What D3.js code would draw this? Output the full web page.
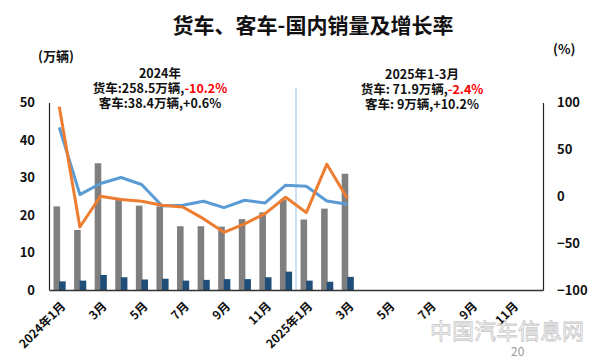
<!DOCTYPE html>
<html>
<head>
<meta charset="utf-8">
<script src="https://cdn.jsdelivr.net/npm/d3@7"></script>
<style>
  html, body { margin: 0; padding: 0; background: #fff; }
  svg { display: block; font-family: "Noto Sans CJK SC", "Noto Sans", sans-serif; }
</style>
</head>
<body>
<svg id="chart" width="600" height="362"></svg>
<script>
// ---- data ----
const months = ["2024-01","2024-02","2024-03","2024-04","2024-05","2024-06","2024-07","2024-08","2024-09","2024-10","2024-11","2024-12",
                "2025-01","2025-02","2025-03","2025-04","2025-05","2025-06","2025-07","2025-08","2025-09","2025-10","2025-11","2025-12"];
const tickMonths = ["2024-01","2024-03","2024-05","2024-07","2024-09","2024-11","2025-01","2025-03","2025-05","2025-07","2025-09","2025-11"];
const tickLabels = ["2024年1月","3月","5月","7月","9月","11月","2025年1月","3月","5月","7月","9月","11月"];
const truckSales = [22.3,16.0,33.8,24.5,22.5,22.3,17.0,17.0,16.9,18.9,20.7,24.1,18.8,21.7,31.0];   // 万辆
const busSales   = [2.3,2.5,4.0,3.4,2.8,3.0,2.5,2.7,2.9,2.9,3.4,4.9,2.5,2.2,3.5];                 // 万辆
const orangeRate = [95.5,-32.8,0,-3.5,-5.3,-9.6,-11.4,-23.9,-38.5,-29.5,-18.5,-1.0,-17.5,34.2,-2.5]; // %
const blueRate   = [73.5,1.8,13.6,20.0,12.5,-10.4,-9.6,-5.3,-12.1,-4.3,-7.1,11.8,10.7,-5.0,-8.6];   // %
const leftTicks = [0,10,20,30,40,50];
const rightTicks = [-100,-50,0,50,100];
const title = "货车、客车-国内销量及增长率";
const note2024 = [["2024年", ""], ["货车:258.5万辆,", "-10.2%"], ["客车:38.4万辆,+0.6%", ""]];
const note2025 = [["2025年1-3月", ""], ["货车: 71.9万辆,", "-2.4%"], ["客车: 9万辆,+10.2%", ""]];

// ---- layout ----
const svg = d3.select("#chart");
const L = 49, R = 543, T = 102.5, B = 290;

const x = d3.scaleBand().domain(months).range([L, R]).padding(0);
const yL = d3.scaleLinear().domain([0, 50]).range([B, T]);
const yR = d3.scaleLinear().domain([-100, 100]).range([B, T]);
const bw = x.bandwidth();
const cx = i => x(months[i]) + bw / 2;

// title
svg.append("text").attr("x", 313).attr("y", 33).attr("text-anchor", "middle")
  .attr("font-size", 21).attr("font-weight", 700).attr("fill", "#111").text(title);

// unit labels
svg.append("text").attr("x", 38).attr("y", 61).attr("font-size", 13).attr("font-weight", 700)
  .attr("fill", "#111").text("(万辆)");
svg.append("text").attr("x", 553).attr("y", 54).attr("font-size", 13).attr("font-weight", 700)
  .attr("fill", "#111").text("(%)");

// annotations: each line centred; red part drawn as its own text right after the black part
function note(lines, xc, y0) {
  const g = svg.append("g").attr("font-size", 12.5).attr("font-weight", 700);
  lines.forEach((ln, k) => {
    const y = y0 + 15 * k;
    const a = g.append("text").attr("y", y).attr("fill", "#111").text(ln[0]);
    const wa = a.node().getComputedTextLength();
    let wb = 0, b = null;
    if (ln[1]) {
      b = g.append("text").attr("y", y).attr("fill", "#ff0000").text(ln[1]);
      wb = b.node().getComputedTextLength();
    }
    const x0 = xc - (wa + wb) / 2;
    a.attr("x", x0);
    if (b) b.attr("x", x0 + wa);
  });
}
note(note2024, 160, 78);
note(note2025, 422, 79);

// separator line between 2024 and 2025
svg.append("line").attr("x1", x("2025-01")).attr("x2", x("2025-01"))
  .attr("y1", 88).attr("y2", B).attr("stroke", "#9dc3e6").attr("stroke-width", 1);

// bars
svg.append("g").selectAll("rect").data(truckSales).join("rect")
  .attr("x", (d, i) => x(months[i]) + bw * 0.22)
  .attr("width", bw * 0.32)
  .attr("y", d => yL(d)).attr("height", d => B - yL(d))
  .attr("fill", "#7f7f7f");
svg.append("g").selectAll("rect").data(busSales).join("rect")
  .attr("x", (d, i) => x(months[i]) + bw * 0.49)
  .attr("width", bw * 0.32)
  .attr("y", d => yL(d)).attr("height", d => B - yL(d))
  .attr("fill", "#1f4e79");

// lines
const line = d3.line().x((d, i) => cx(i)).y(d => yR(d));
svg.append("path").datum(blueRate).attr("d", line).attr("fill", "none")
  .attr("stroke", "#5b9bd5").attr("stroke-width", 3).attr("stroke-linejoin", "round");
svg.append("path").datum(orangeRate).attr("d", line).attr("fill", "none")
  .attr("stroke", "#ed7d31").attr("stroke-width", 3).attr("stroke-linejoin", "round");

// axes
const axL = svg.append("g").attr("transform", `translate(${L},0)`)
  .call(d3.axisLeft(yL).tickValues(leftTicks).tickSize(0).tickPadding(14));
const axR = svg.append("g").attr("transform", `translate(${R},0)`)
  .call(d3.axisRight(yR).tickValues(rightTicks).tickSize(0).tickPadding(14));
const axB = svg.append("g").attr("transform", `translate(0,${B})`)
  .call(d3.axisBottom(x).tickValues(tickMonths).tickSize(0).tickFormat((d, i) => tickLabels[i]));

[axL, axR].forEach(a => {
  a.select(".domain").attr("stroke", "#222").attr("stroke-width", 1.2);
  a.selectAll("text").attr("font-size", 13).attr("font-weight", 700).attr("fill", "#111")
    .attr("font-family", "'Noto Sans CJK SC', sans-serif");
});
axB.select(".domain").attr("stroke", "#333").attr("stroke-width", 1.5);
axB.selectAll("text")
  .attr("font-size", 12).attr("font-weight", 700).attr("fill", "#111")
  .attr("font-family", "'Noto Sans CJK SC', sans-serif")
  .attr("x", 0).attr("y", 0).attr("dy", "0.35em")
  .attr("text-anchor", "end")
  .attr("transform", "translate(4,14) rotate(-45)");

// bottom-right logo & page number
svg.append("text").attr("x", 430).attr("y", 339).attr("font-size", 22).attr("fill", "none")
  .attr("stroke", "#c8c8c8").attr("stroke-width", 0.8).text("中国汽车信息网");
svg.append("text").attr("x", 511).attr("y", 356).attr("font-size", 12).attr("fill", "#999").text("20");
</script>
</body>
</html>
